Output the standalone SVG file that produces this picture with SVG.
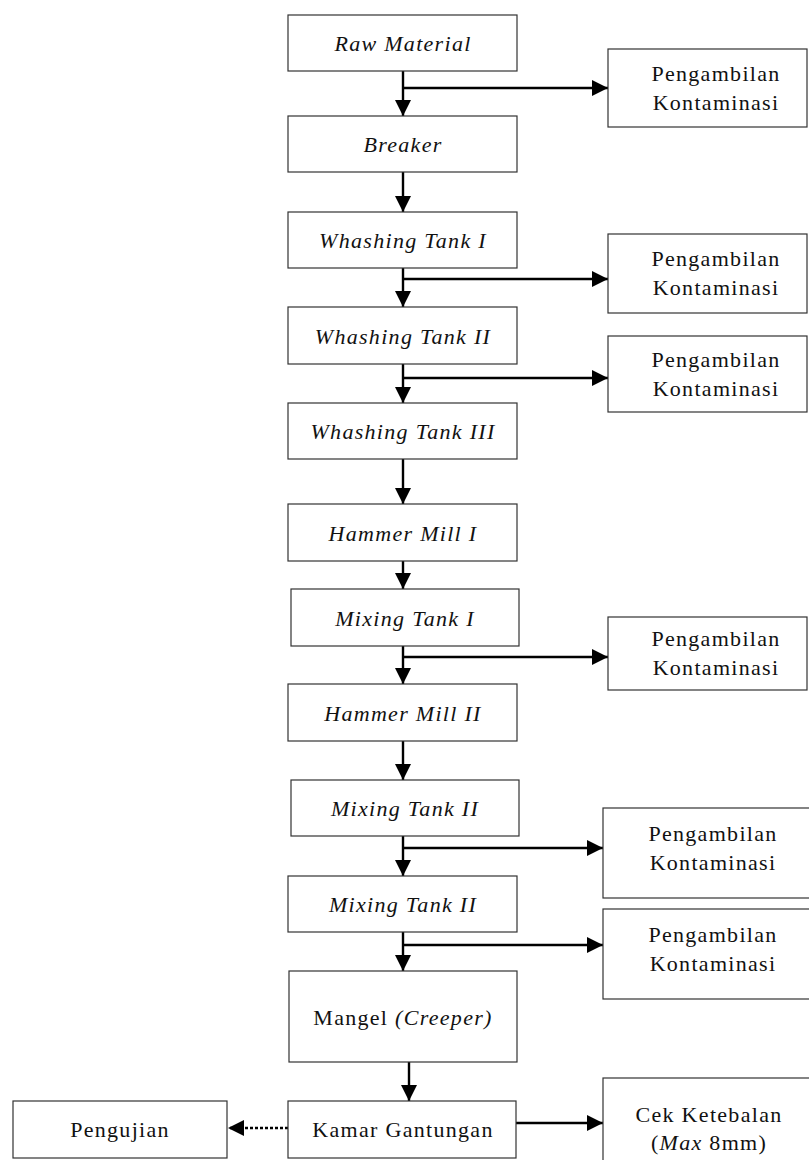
<svg xmlns="http://www.w3.org/2000/svg" width="809" height="1160" viewBox="0 0 809 1160">
<defs>
<style>
.box{fill:#fff;stroke:#333;stroke-width:1.2}
.t{font-family:"Liberation Serif","Times New Roman",serif;font-size:22px;letter-spacing:1.3px;fill:#111;text-anchor:middle}
.i{font-style:italic}
.ln{stroke:#000;stroke-width:2.4;fill:none}
.dot{stroke:#000;stroke-width:2.4;fill:none;stroke-dasharray:3 2}
</style>
<marker id="ah" viewBox="0 0 16 16" refX="16" refY="8" markerWidth="16" markerHeight="16" markerUnits="userSpaceOnUse" orient="auto">
<path d="M0,0 L16,8 L0,16 Z" fill="#000"/>
</marker>
</defs>
<rect width="809" height="1160" fill="#fff"/>
<g id="connectors">
<line class="ln" x1="403" y1="71" x2="403" y2="116" marker-end="url(#ah)"/>
<line class="ln" x1="403" y1="88" x2="608" y2="88" marker-end="url(#ah)"/>
<line class="ln" x1="403" y1="172" x2="403" y2="212" marker-end="url(#ah)"/>
<line class="ln" x1="403" y1="268" x2="403" y2="307" marker-end="url(#ah)"/>
<line class="ln" x1="403" y1="279" x2="608" y2="279" marker-end="url(#ah)"/>
<line class="ln" x1="403" y1="364" x2="403" y2="403" marker-end="url(#ah)"/>
<line class="ln" x1="403" y1="378" x2="608" y2="378" marker-end="url(#ah)"/>
<line class="ln" x1="403" y1="459" x2="403" y2="504" marker-end="url(#ah)"/>
<line class="ln" x1="403" y1="561" x2="403" y2="589" marker-end="url(#ah)"/>
<line class="ln" x1="403" y1="646" x2="403" y2="684" marker-end="url(#ah)"/>
<line class="ln" x1="403" y1="657" x2="608" y2="657" marker-end="url(#ah)"/>
<line class="ln" x1="403" y1="741" x2="403" y2="780" marker-end="url(#ah)"/>
<line class="ln" x1="403" y1="836" x2="403" y2="876" marker-end="url(#ah)"/>
<line class="ln" x1="403" y1="848" x2="603" y2="848" marker-end="url(#ah)"/>
<line class="ln" x1="403" y1="932" x2="403" y2="971" marker-end="url(#ah)"/>
<line class="ln" x1="403" y1="945" x2="603" y2="945" marker-end="url(#ah)"/>
<line class="ln" x1="409" y1="1062" x2="409" y2="1101" marker-end="url(#ah)"/>
<line class="ln" x1="516" y1="1123" x2="603" y2="1123" marker-end="url(#ah)"/>
<line class="dot" x1="288" y1="1128" x2="228" y2="1128" marker-end="url(#ah)"/>
</g>
<g id="n-raw"><rect class="box" x="288" y="15" width="229" height="56"/><text class="t i" x="403" y="51">Raw Material</text></g>
<g id="n-breaker"><rect class="box" x="288" y="116" width="229" height="56"/><text class="t i" x="403" y="152">Breaker</text></g>
<g id="n-wt1"><rect class="box" x="288" y="212" width="229" height="56"/><text class="t i" x="403" y="248">Whashing Tank I</text></g>
<g id="n-wt2"><rect class="box" x="288" y="307" width="229" height="57"/><text class="t i" x="403" y="344">Whashing Tank II</text></g>
<g id="n-wt3"><rect class="box" x="288" y="403" width="229" height="56"/><text class="t i" x="403" y="439">Whashing Tank III</text></g>
<g id="n-hm1"><rect class="box" x="288" y="504" width="229" height="57"/><text class="t i" x="403" y="541">Hammer Mill I</text></g>
<g id="n-mt1"><rect class="box" x="291" y="589" width="228" height="57"/><text class="t i" x="405" y="626">Mixing Tank I</text></g>
<g id="n-hm2"><rect class="box" x="288" y="684" width="229" height="57"/><text class="t i" x="403" y="721">Hammer Mill II</text></g>
<g id="n-mt2"><rect class="box" x="291" y="780" width="228" height="56"/><text class="t i" x="405" y="816">Mixing Tank II</text></g>
<g id="n-mt3"><rect class="box" x="288" y="876" width="229" height="56"/><text class="t i" x="403" y="912">Mixing Tank II</text></g>
<g id="n-mangel"><rect class="box" x="289" y="971" width="228" height="91"/><text class="t" x="403" y="1025">Mangel <tspan class="i">(Creeper)</tspan></text></g>
<g id="n-kamar"><rect class="box" x="288" y="1101" width="228" height="57"/><text class="t" x="403" y="1137">Kamar Gantungan</text></g>
<g id="n-pengujian"><rect class="box" x="13" y="1101" width="214" height="57"/><text class="t" x="120" y="1137">Pengujian</text></g>
<g id="n-cek"><rect class="box" x="603" y="1078" width="220" height="90"/><text class="t" x="709" y="1122">Cek Ketebalan</text><text class="t" x="709" y="1150">(<tspan class="i">Max</tspan> 8mm)</text></g>
<g id="n-pk1"><rect class="box" x="608" y="49" width="199" height="78"/><text class="t" x="716" y="81">Pengambilan</text><text class="t" x="716" y="110">Kontaminasi</text></g>
<g id="n-pk2"><rect class="box" x="608" y="234" width="199" height="79"/><text class="t" x="716" y="266">Pengambilan</text><text class="t" x="716" y="295">Kontaminasi</text></g>
<g id="n-pk3"><rect class="box" x="608" y="336" width="199" height="76"/><text class="t" x="716" y="367">Pengambilan</text><text class="t" x="716" y="396">Kontaminasi</text></g>
<g id="n-pk4"><rect class="box" x="608" y="617" width="199" height="73"/><text class="t" x="716" y="646">Pengambilan</text><text class="t" x="716" y="675">Kontaminasi</text></g>
<g id="n-pk5"><rect class="box" x="603" y="808" width="220" height="90"/><text class="t" x="713" y="841">Pengambilan</text><text class="t" x="713" y="870">Kontaminasi</text></g>
<g id="n-pk6"><rect class="box" x="603" y="909" width="220" height="90"/><text class="t" x="713" y="942">Pengambilan</text><text class="t" x="713" y="971">Kontaminasi</text></g>
</svg>
